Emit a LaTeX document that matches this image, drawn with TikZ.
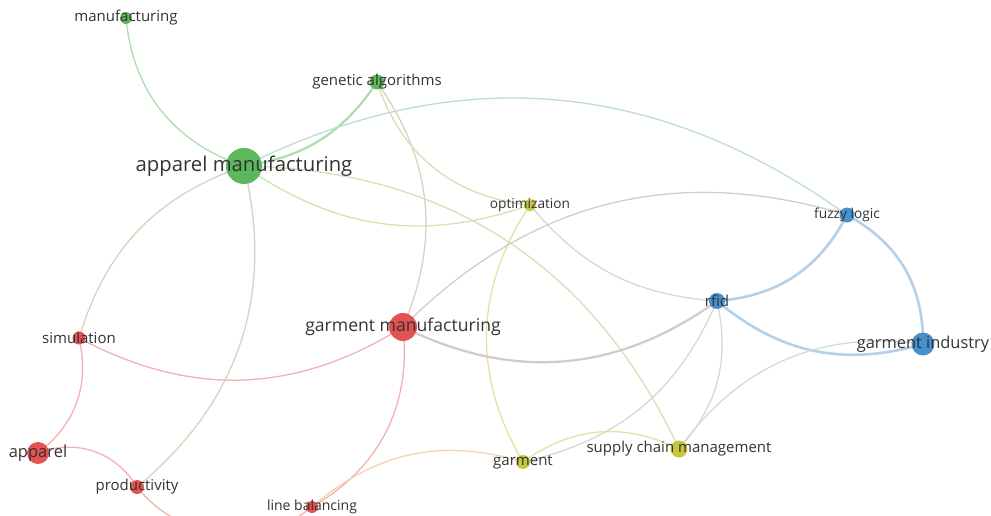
\documentclass[tikz,border=0pt]{standalone}
\usepackage{fontspec}
\setmainfont{Open Sans}
\usepackage{tikz}
\usepackage{xcolor}

\definecolor{vgreen}{RGB}{92,184,92}
\definecolor{vred}{RGB}{228,82,82}
\definecolor{vblue}{RGB}{72,144,204}
\definecolor{vyellow}{RGB}{200,198,60}
\colorlet{lgreen}{vgreen!50!white}
\colorlet{lred}{vred!45!white}
\colorlet{lblue}{vblue!42!white}
\colorlet{lyellow}{vyellow!50!white}
% links between two clusters
\colorlet{lgb}{vgreen!45!vblue!38!white}
\colorlet{lgy}{vgreen!55!vyellow!42!white}
\colorlet{lgr}{vgreen!50!vred!38!white}
\colorlet{lrb}{vred!50!vblue!38!white}
\colorlet{lry}{vred!45!vyellow!40!white}
\colorlet{lyb}{vyellow!50!vblue!40!white}

\begin{document}
\begin{tikzpicture}[x=1pt,y=1pt,
	edge/.style={line width=1.3pt},
	strong/.style={line width=2.6pt},
	kw/.style={circle,inner sep=0pt,minimum size=#1},
	lbl/.style={text=black!80,inner sep=0pt,font=\fontsize{15}{15}\selectfont}]
	
	\useasboundingbox (0,0) rectangle (991,-516);
	
	% keyword positions
	\coordinate (man) at (126,-18);
	\coordinate (ga) at (377,-82);
	\coordinate (am) at (244,-166);
	\coordinate (opt) at (530,-205);
	\coordinate (fuz) at (847,-215);
	\coordinate (rfid) at (717,-301);
	\coordinate (gm) at (403,-327);
	\coordinate (gi) at (923,-344);
	\coordinate (sim) at (79,-338);
	\coordinate (app) at (38,-453);
	\coordinate (prod) at (137,-487);
	\coordinate (lb) at (312,-507);
	\coordinate (gar) at (523,-462);
	\coordinate (scm) at (679,-449);
	
	% links
	\begin{scope}
		\clip (0,0) rectangle (991,-516);
		\draw[edge,lgreen] (man) to[bend right=33] (am);
		\draw[edge,line width=2.2pt,lgreen] (ga) to[bend left=24] (am);
		\draw[edge,lgb] (am) to[bend left=31] (fuz);
		\draw[edge,lgy] (am) to[bend right=27] (opt);
		\draw[edge,lgy] (am) to[bend left=32] (scm);
		\draw[edge,lgr] (am) to[bend right=27] (sim);
		\draw[edge,lgr] (am) to[bend left=32] (prod);
		\draw[edge,lgr] (ga) to[bend left=29] (gm);
		\draw[edge,lgy] (ga) to[bend right=33] (opt);
		\draw[edge,lyb] (opt) to[bend right=23] (rfid);
		\draw[edge,lyellow] (opt) to[bend right=32] (gar);
		\draw[edge,lrb] (gm) to[bend left=31] (fuz);
		\draw[strong,line width=2.3pt,lrb] (gm) to[bend right=31] (rfid);
		\draw[edge,lred] (gm) to[bend left=30] (sim);
		\draw[edge,lred] (gm) to[bend left=33] (lb);
		\draw[edge,lred] (sim) to[bend left=33] (app);
		\draw[edge,lred] (app) to[bend left=40] (prod);
		\draw[edge,lred] (prod) to[bend right=45] (lb);
		\draw[edge,lry] (lb) to[bend left=29] (gar);
		\draw[edge,lyellow] (gar) to[bend left=31] (scm);
		\draw[edge,lyb] (gar) to[bend right=27] (rfid);
		\draw[edge,lyb] (rfid) to[bend left=27] (scm);
		\draw[strong,lblue] (rfid) to[bend right=29] (fuz);
		\draw[strong,lblue] (rfid) to[bend right=28] (gi);
		\draw[strong,lblue] (fuz) to[bend left=31] (gi);
		\draw[edge,lyb] (gi) to[bend right=31] (scm);
	\end{scope}
	
	% keywords
	\node[kw=12pt,fill=vgreen,label={[lbl]center:manufacturing}] (nman) at (man) {};
	\node[kw=15pt,fill=vgreen,label={[lbl]center:genetic algorithms}] (nga) at (ga) {};
	\node[kw=36pt,fill=vgreen,label={[lbl,font=\fontsize{20.3}{20.3}\selectfont]center:apparel manufacturing}] (nam) at (am) {};
	\node[kw=12pt,fill=vyellow,label={[lbl,font=\fontsize{13.7}{13.7}\selectfont]center:optimization}] (nopt) at (opt) {};
	\node[kw=15pt,fill=vblue,label={[lbl,font=\fontsize{13.7}{13.7}\selectfont]center:fuzzy logic}] (nfuz) at (fuz) {};
	\node[kw=16pt,fill=vblue,label={[lbl]center:rfid}] (nrfid) at (rfid) {};
	\node[kw=28pt,fill=vred,label={[lbl,font=\fontsize{17.6}{17.6}\selectfont]center:garment manufacturing}] (ngm) at (gm) {};
	\node[kw=23pt,fill=vblue,label={[lbl,font=\fontsize{16.4}{16.4}\selectfont]center:garment industry}] (ngi) at (gi) {};
	\node[kw=13pt,fill=vred,label={[lbl]center:simulation}] (nsim) at (sim) {};
	\node[kw=22pt,fill=vred,label={[lbl,font=\fontsize{16.5}{16.5}\selectfont]center:apparel}] (napp) at (app) {};
	\node[kw=14pt,fill=vred,label={[lbl]center:productivity}] (nprod) at (prod) {};
	\node[kw=12pt,fill=vred,label={[lbl,font=\fontsize{14}{14}\selectfont]center:line balancing}] (nlb) at (lb) {};
	\node[kw=14pt,fill=vyellow,label={[lbl]center:garment}] (ngar) at (gar) {};
	\node[kw=17pt,fill=vyellow,label={[lbl]center:supply chain management}] (nscm) at (scm) {};
\end{tikzpicture}
\end{document}
